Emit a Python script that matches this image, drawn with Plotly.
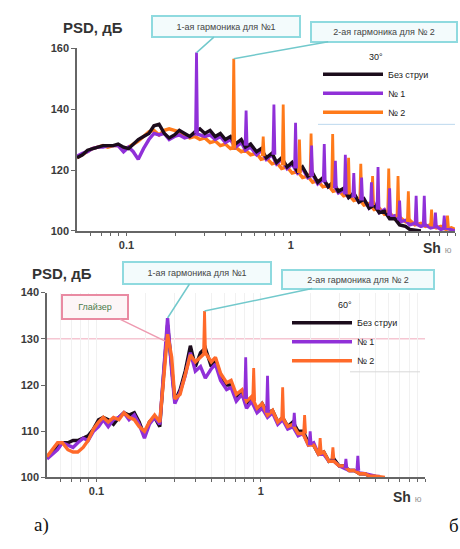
import plotly.graph_objects as go

# ---------------- data: upper panel (30°) ----------------
sh_top = [0.050, 0.054, 0.058, 0.062, 0.067, 0.072, 0.077, 0.083, 0.089, 0.096,
          0.103, 0.110, 0.118, 0.127, 0.137, 0.147, 0.158, 0.170, 0.182, 0.196,
          0.210, 0.226, 0.243, 0.261, 0.280, 0.300, 0.323, 0.347, 0.373, 0.400,
          0.430, 0.460, 0.500, 0.530, 0.570, 0.620, 0.660, 0.710, 0.770, 0.820,
          0.880, 0.950, 1.02, 1.10, 1.18, 1.27, 1.36, 1.46, 1.57, 1.69,
          1.81, 1.95, 2.10, 2.25, 2.42, 2.60, 2.79, 3.00, 3.22, 3.46,
          3.72, 4.00, 4.30, 4.60, 5.00, 5.30, 5.70, 6.20, 6.60, 7.10,
          7.70, 8.20, 8.80, 9.50, 10.0]

top_nojet = [124, 125, 126.5, 127, 127.5, 128, 128, 128, 128.5, 127.5,
             127, 128.5, 130, 131, 132, 134.5, 135, 132, 130.5, 131.5,
             133, 132, 131, 132.5, 133.5, 132, 133, 131, 132, 130,
             131, 128.5, 130, 127.5, 128.5, 126, 127, 124, 125.5, 122.5,
             124, 121, 122.5, 119.5, 121, 118, 119, 116, 117.5, 114.5,
             116, 113, 114, 111, 112.5, 109.5, 110.5, 107.5, 108.5, 106,
             106.5, 104, 104, 102, 101.5, 100.5, 100.2, 100, None, None,
             None, None, None, None, None]

top_n1 = [124.5, 125.5, 126, 127, 127.5, 127.5, 128, 128, 128, 126,
          127.5, 126, 123.5, 127, 130, 132, 131.5, 132, 130, 131,
          131.5, 130.5, 131, 132, 131.5, 131, 131.5, 130, 131, 129,
          130, 127.5, 129, 126.5, 127.5, 125, 126.5, 123.5, 125, 122,
          123.5, 120.5, 122, 119, 120.5, 117.5, 118.5, 115.5, 117, 114.5,
          115.5, 112.5, 113.5, 111, 112, 109.5, 110.5, 107.5, 109, 106,
          107, 104.5, 105, 103, 103.5, 102, 102.5, 101.5, 102, 101,
          101.5, 100.5, 101, 100.5, 100]

top_n2 = [124, 125, 126, 127, 127.5, 128, 127.5, 128, 128, 127,
          127.5, 128.5, 129.5, 131, 132.5, 133, 131.5, 133, 133.5, 133,
          132.5, 131.5, 130.5, 131, 130, 130.5, 129, 129.5, 128, 128.5,
          127, 127.5, 126, 126.5, 125, 125.5, 123.5, 124, 122, 122.5,
          120.5, 121, 119, 119.5, 117.5, 118, 116, 116.5, 114.5, 115,
          113, 113.5, 111.5, 112, 110, 110.5, 108.5, 109, 107, 107.5,
          105.5, 106, 104, 104.5, 103, 103.5, 102, 102.5, 101.5, 102,
          101, 101.5, 100.5, 101, 100.5]

# tonal peaks: (Sh, peak level, level at the foot of the peak)
top_peaks_n1 = [(0.267, 158.5, 132), (0.535, 139.5, 128), (0.79, 141.5, 125),
                (1.07, 135.5, 120.5), (1.34, 128, 118), (1.60, 128.5, 116),
                (1.87, 123, 114), (2.15, 125, 112), (2.42, 119, 111),
                (2.70, 117.5, 110), (3.10, 116, 108), (3.40, 121, 107),
                (4.00, 114, 105), (4.60, 110, 103.5), (5.80, 111.5, 102.5),
                (6.50, 111.5, 102), (7.60, 106, 101.5), (8.60, 105, 101)]
top_peaks_n2 = [(0.45, 156.5, 127), (0.68, 131, 124.5), (0.90, 141.5, 121.5),
                (1.13, 130, 119), (1.33, 132, 118), (1.80, 131.8, 114),
                (2.25, 124, 112), (2.67, 122, 110.5), (3.15, 118, 108.5),
                (3.95, 120.5, 106), (4.50, 118, 104.5), (5.20, 113, 103),
                (7.20, 107, 101.5), (9.00, 105, 101)]

# ---------------- data: lower panel (60°) ----------------
sh_bot = [0.050, 0.054, 0.058, 0.062, 0.067, 0.072, 0.077, 0.083, 0.089, 0.096,
          0.103, 0.110, 0.118, 0.127, 0.137, 0.147, 0.158, 0.170, 0.182, 0.196,
          0.210, 0.226, 0.243, 0.256, 0.271, 0.287, 0.300, 0.323, 0.347, 0.373,
          0.400, 0.430, 0.460, 0.500, 0.530, 0.570, 0.620, 0.660, 0.710, 0.770,
          0.820, 0.880, 0.950, 1.02, 1.10, 1.18, 1.27, 1.36, 1.46, 1.57,
          1.69, 1.81, 1.95, 2.10, 2.25, 2.42, 2.60, 2.79, 3.00, 3.22,
          3.46, 3.72, 4.00, 4.30, 4.60, 5.00, 5.30, 5.70, 6.20, 6.60,
          7.10, 7.70, 8.20, 8.80, 9.50, 10.0]

bot_nojet = [104.5, 105.5, 107, 107.5, 107.5, 108, 108, 108.5, 109, 110.5,
             112.5, 113, 112.5, 111.5, 113, 114, 113.5, 114, 112, 109,
             112, 113, 111, 122, 133, 124, 116.5, 119, 123, 128.5,
             124, 127, 128, 124, 125.5, 122, 120, 120, 117.5, 118.5,
             116, 117, 114.5, 116, 114, 114.5, 112, 113, 111, 112,
             110, 110, 107.5, 107, 105, 105.5, 103.5, 104, 102.5, 102.5,
             101.5, 101.5, 100.8, 100.8, 100.3, 100.2, None, None, None, None,
             None, None, None, None, None, None]

bot_n1 = [104, 105, 106, 107.5, 107, 106.5, 107.5, 108.5, 108, 110,
          111, 112.5, 111, 112.5, 113, 114, 112.5, 113.5, 111.5, 108.5,
          111.5, 113, 111.5, 123, 134.5, 123, 116, 118.5, 122, 127,
          123, 124, 121.5, 123.5, 124.5, 121, 119, 119.5, 116.5, 118,
          115, 116.5, 114, 115, 113, 114, 111.5, 112.5, 110.5, 111,
          109, 109.5, 107, 107.5, 105, 105, 103.5, 103.5, 102.5, 102,
          101.5, 101.5, 101, 100.8, 100.5, 100.3, 100.2, None, None, None,
          None, None, None, None, None, None]

bot_n2 = [104.5, 106, 107.5, 107.5, 106, 105.5, 105.5, 106.5, 108, 110.5,
          112, 113, 112, 113, 112.5, 114, 113, 112.5, 111, 110,
          112, 113.5, 112, 121, 131, 126, 117, 118, 122.5, 126.5,
          125, 126, 127, 125, 126, 122.5, 120.5, 121, 118, 119,
          116.5, 117.5, 115, 116, 113.5, 114.5, 112, 113, 111, 111.5,
          109.5, 109.5, 107, 107, 105, 105.5, 103.5, 103.5, 102.5, 102.5,
          101.5, 101.5, 100.8, 100.8, 100.3, 100.3, 100.2, 100, None, None,
          None, None, None, None, None, None]

bot_peaks_n1 = [(0.81, 126, 117), (1.10, 122, 114), (1.60, 114, 111),
                (2.00, 110, 107), (3.30, 104, 102), (3.90, 104.7, 101.5)]
bot_peaks_n2 = [(0.455, 136, 127), (0.906, 123.7, 116.5), (1.36, 119.5, 112.5),
                (1.85, 113.5, 109.5), (2.30, 108.5, 105.5), (2.75, 106.5, 104)]

series_names = ["Без струи", "№ 1", "№ 2"]
x_tick_vals = [0.06, 0.07, 0.08, 0.09, 0.1, 0.2, 0.3, 0.4, 0.5, 0.6, 0.7, 0.8, 0.9,
               1, 2, 3, 4, 5, 6, 7, 8, 9, 10]
x_tick_text = ["0.1" if v == 0.1 else ("1" if v == 1 else "") for v in x_tick_vals]
top_y_ticks = [100, 120, 140, 160]
bot_y_ticks = [100, 110, 120, 130, 140]

C_BLACK = "#1c0c1c"
C_PURPLE = "#9030d8"
C_ORANGE = "#ff7a1a"
C_ORANGE2 = "#ff6a2a"

W, H = 460, 549
SANS = "Liberation Sans, Arial"


def spikes(peaks):
    xs, ys = [], []
    for f, top, foot in peaks:
        xs += [f / 1.014, f, f * 1.014, None]
        ys += [foot, top, foot, None]
    return xs, ys


fig = go.Figure()


def add_panel(xa, ya, leg, grid, nojet, n1, n2, pk1, pk2, order, orange):
    data = {"nojet": (nojet, C_BLACK, series_names[0]),
            "n1": (n1, C_PURPLE, series_names[1]),
            "n2": (n2, orange, series_names[2])}
    for key in order:
        vals, col, name = data[key]
        fig.add_trace(go.Scatter(x=grid, y=vals, mode="lines", name=name,
                                 line=dict(color=col, width=3.4), xaxis=xa, yaxis=ya,
                                 legend=leg, showlegend=False, connectgaps=False))
    for pk, col in ((pk2, orange), (pk1, C_PURPLE)):
        sx, sy = spikes(pk)
        fig.add_trace(go.Scatter(x=sx, y=sy, mode="lines", line=dict(color=col, width=2.8),
                                 xaxis=xa, yaxis=ya, showlegend=False, legend=leg,
                                 hoverinfo="skip"))
    # legend entries in fixed order
    for key in ("nojet", "n1", "n2"):
        vals, col, name = data[key]
        fig.add_trace(go.Scatter(x=[None], y=[None], mode="lines", name=name,
                                 line=dict(color=col, width=3.5), xaxis=xa, yaxis=ya,
                                 legend=leg, showlegend=True))


add_panel("x", "y", "legend", sh_top, top_nojet, top_n1, top_n2,
          top_peaks_n1, top_peaks_n2, ("n2", "n1", "nojet"), C_ORANGE)
add_panel("x2", "y2", "legend2", sh_bot, bot_nojet, bot_n1, bot_n2,
          bot_peaks_n1, bot_peaks_n2, ("nojet", "n1", "n2"), C_ORANGE2)

tickfont = dict(family=SANS, size=11, color="#3a3a3a", weight="bold")
xcommon = dict(type="log", range=[-1.301, 1.0], tickvals=x_tick_vals, ticktext=x_tick_text,
               ticks="outside", ticklen=3, tickcolor="#666", showline=True,
               linecolor="#666", linewidth=1.5, tickfont=tickfont, zeroline=False)
ycommon = dict(ticks="outside", ticklen=4, tickcolor="#666", showline=True,
               linecolor="#666", linewidth=1.5, tickfont=tickfont, zeroline=False,
               showgrid=False)
legfont = dict(family=SANS, size=9, color="#222")

fig.update_layout(
    width=W, height=H, margin=dict(l=0, r=0, t=0, b=0),
    paper_bgcolor="white", plot_bgcolor="white",
    xaxis=dict(domain=[77 / W, 455 / W], anchor="y", showgrid=False, **xcommon),
    yaxis=dict(domain=[1 - 230 / H, 1 - 43 / H], anchor="x", range=[100, 160],
               tickvals=top_y_ticks, **ycommon),
    xaxis2=dict(domain=[47 / W, 425 / W], anchor="y2", showgrid=True,
                gridcolor="#f1f1f1", gridwidth=1, **xcommon),
    yaxis2=dict(domain=[1 - 482 / H, 1 - 293 / H], anchor="x2", range=[100, 140],
                tickvals=bot_y_ticks, **ycommon),
    legend=dict(x=318 / W, y=1 - 43 / H, xanchor="left", yanchor="top",
                bgcolor="rgba(0,0,0,0)", itemwidth=60, tracegroupgap=0,
                font=legfont,
                title=dict(text="30°", side="top center", font=legfont)),
    legend2=dict(x=287 / W, y=1 - 297 / H, xanchor="left", yanchor="top",
                 bgcolor="rgba(0,0,0,0)", itemwidth=60, tracegroupgap=0,
                 font=legfont,
                 title=dict(text="60°", side="top center", font=legfont)),
    showlegend=True,
)

# reference line at 130 dB in the lower panel and legend underlines
fig.add_shape(type="line", xref="x2 domain", yref="y2", x0=0, x1=1, y0=130, y1=130,
              line=dict(color="#f5c6d2", width=1.5), layer="below")
fig.add_shape(type="line", xref="paper", yref="paper", x0=318 / W, x1=455 / W,
              y0=1 - 121 / H, y1=1 - 121 / H, line=dict(color="#bcd8ee", width=1))
fig.add_shape(type="line", xref="paper", yref="paper", x0=350 / W, x1=420 / W,
              y0=1 - 374 / H, y1=1 - 374 / H, line=dict(color="#d8d8d8", width=1))

box_font = dict(family=SANS, size=9, color="#444")
callout = dict(showarrow=True, arrowhead=0, arrowwidth=1.5, arrowcolor="#72c9cc",
               bordercolor="#8fdadf", borderwidth=2, bgcolor="#f3fbfc", borderpad=2,
               font=box_font, xanchor="center", yanchor="middle")

fig.add_annotation(x=-0.573, y=158.5, xref="x", yref="y", ax=29, ay=-26,
                   text="1-ая гармоника для №1", width=142, height=15, **callout)
fig.add_annotation(x=-0.347, y=156.5, xref="x", yref="y", ax=150, ay=-27,
                   text="2-ая гармоника для № 2", width=140, height=14, **callout)
fig.add_annotation(x=-0.567, y=134.5, xref="x2", yref="y2", ax=29, ay=-45,
                   text="1-ая гармоника для №1", width=142, height=16, **callout)
fig.add_annotation(x=-0.342, y=136, xref="x2", yref="y2", ax=153, ay=-32,
                   text="2-ая гармоника для № 2", width=146, height=13, **callout)
fig.add_annotation(x=-0.582, y=129.5, xref="x2", yref="y2", ax=-70, ay=-34,
                   text="Глайзер", width=60, height=18, showarrow=True, arrowhead=0,
                   arrowwidth=1.5, arrowcolor="#ee9ab0", bordercolor="#e98aa2",
                   borderwidth=2, bgcolor="#fdf5f7", borderpad=2,
                   xanchor="center", yanchor="middle",
                   font=dict(family=SANS, size=9, color="#4a7a4a"))


def text_at(px, py, text, font, xanchor="center"):
    fig.add_annotation(x=px / W, y=1 - py / H, xref="paper", yref="paper",
                       showarrow=False, text=text, font=font,
                       xanchor=xanchor, yanchor="middle")


label_font = dict(family=SANS, size=15, color="#333", weight="bold")
text_at(93, 22, "PSD, дБ", label_font)
text_at(62, 273, "PSD, дБ", label_font)
sh_text = "Sh <span style='font-size:9px;color:#999;font-weight:normal'>ю</span>"
sh_font = dict(family=SANS, size=14, color="#333", weight="bold")
text_at(437, 247, sh_text, sh_font)
text_at(407, 502, sh_text, sh_font)

serif = dict(family="Liberation Serif, Times New Roman", size=19, color="#111")
text_at(41, 531, "а)", serif)
text_at(447, 531, "б", serif, xanchor="left")

fig.write_html("out.html")
